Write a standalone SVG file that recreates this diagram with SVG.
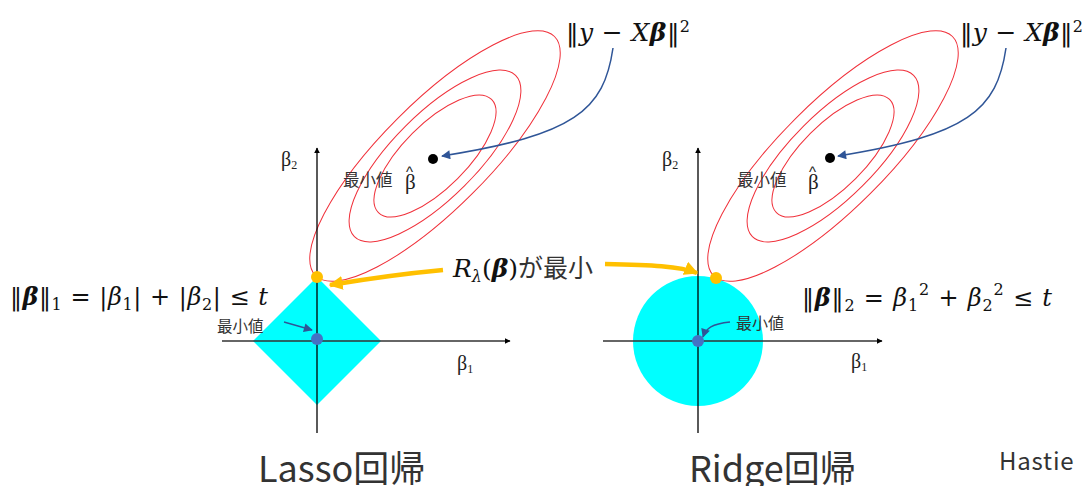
<svg xmlns="http://www.w3.org/2000/svg" width="1085" height="486" viewBox="0 0 1085 486">
<style>
.ell{fill:none;stroke:#f0303a;stroke-width:1}
.ax{stroke:#000;stroke-width:1.3;fill:none}
.axh{stroke:#333;stroke-width:1.3;fill:none}
.jp{font-family:"Noto Sans CJK JP","Noto Sans",sans-serif;fill:#333}
.m{font-family:"DejaVu Serif","Liberation Serif",serif;fill:#111}
.gr{font-family:"Liberation Serif",serif;fill:#222}
.hat{font-family:"Liberation Sans",sans-serif;fill:#222}
.bl{fill:none;stroke:#2f5597;stroke-width:1.5}
.or{fill:none;stroke:#ffc000;stroke-width:4.5}
</style>
<defs>
<marker id="ah" viewBox="0 0 10 10" refX="9" refY="5" markerWidth="6" markerHeight="9" orient="auto" markerUnits="userSpaceOnUse">
<path d="M0,0 L10,5 L0,10 z" fill="#000"/></marker>
<marker id="bh" viewBox="0 0 10 10" refX="9" refY="5" markerWidth="10" markerHeight="9" orient="auto" markerUnits="userSpaceOnUse">
<path d="M0,0 L10,5 L0,10 z" fill="#2f5597"/></marker>
<marker id="oh" viewBox="0 0 10 10" refX="9" refY="5" markerWidth="14" markerHeight="14" orient="auto" markerUnits="userSpaceOnUse">
<path d="M0,0 L10,5 L0,10 z" fill="#ffc000"/></marker>
</defs>

<g id="lasso">
<polygon points="317,277 381,341 317,405 253,341" fill="#00ffff"/>
<g id="lasso-ellipses" transform="translate(435,156) rotate(-45)">
<ellipse class="ell" rx="169" ry="53"/>
<ellipse class="ell" rx="114" ry="42"/>
<ellipse class="ell" rx="80" ry="32"/>
</g>
<line class="ax" x1="317" y1="433" x2="317" y2="148" marker-end="url(#ah)"/>
<line class="axh" x1="222" y1="341" x2="510" y2="341" marker-end="url(#ah)"/>
<text class="gr" x="281" y="166" font-size="20">β<tspan font-size="12" dy="3">2</tspan></text>
<text class="gr" x="457" y="370" font-size="20">β<tspan font-size="12" dy="3">1</tspan></text>
<circle cx="433" cy="159" r="5" fill="#000"/>
<text class="jp" x="343" y="186" font-size="16.5">最小値</text>
<text class="gr" x="405" y="189" font-size="21">β</text>
<text class="hat" x="406" y="177" font-size="15">^</text>
<circle cx="317" cy="339" r="6" fill="#4472c4"/>
<circle cx="317" cy="277" r="6" fill="#ffc000"/>
<text class="jp" x="217" y="332" font-size="15.5">最小値</text>
<path class="bl" d="M284,322 L312,330" marker-end="url(#bh)"/>
<text class="m" x="10" y="305" font-size="24" textLength="258" lengthAdjust="spacing">‖<tspan font-weight="bold" font-style="italic">β</tspan>‖<tspan font-size="16" dy="5">1</tspan><tspan dy="-5"> = |</tspan><tspan font-style="italic">β</tspan><tspan font-size="16" dy="5">1</tspan><tspan dy="-5">| + |</tspan><tspan font-style="italic">β</tspan><tspan font-size="16" dy="5">2</tspan><tspan dy="-5">| ≤ </tspan><tspan font-style="italic">t</tspan></text>
<text class="m" x="566" y="41" font-size="25" textLength="124" lengthAdjust="spacing">‖<tspan font-style="italic">y</tspan> − <tspan font-style="italic">X</tspan><tspan font-weight="bold" font-style="italic">β</tspan>‖<tspan font-size="16" dy="-9">2</tspan></text>
<text class="jp" x="258" y="482" font-size="36">Lasso回帰</text>
</g>

<g id="ridge">
<circle cx="698" cy="341" r="65" fill="#00ffff"/>
<g id="ridge-ellipses" transform="translate(833,156) rotate(-45)">
<ellipse class="ell" rx="169" ry="53"/>
<ellipse class="ell" rx="114" ry="42"/>
<ellipse class="ell" rx="80" ry="32"/>
</g>
<line class="ax" x1="698" y1="433" x2="698" y2="148" marker-end="url(#ah)"/>
<line class="axh" x1="603" y1="341" x2="882" y2="341" marker-end="url(#ah)"/>
<text class="gr" x="662" y="166" font-size="20">β<tspan font-size="12" dy="3">2</tspan></text>
<text class="gr" x="851" y="368" font-size="20">β<tspan font-size="12" dy="3">1</tspan></text>
<circle cx="830" cy="158" r="5" fill="#000"/>
<text class="jp" x="737" y="186" font-size="16.5">最小値</text>
<text class="gr" x="808" y="189" font-size="21">β</text>
<text class="hat" x="809" y="177" font-size="15">^</text>
<circle cx="698" cy="341" r="6" fill="#4472c4"/>
<circle cx="716" cy="278" r="6" fill="#ffc000"/>
<text class="jp" x="736" y="329" font-size="16">最小値</text>
<path class="bl" d="M730,322 C712,324 706,328 703,337" marker-end="url(#bh)"/>
<text class="m" x="802" y="306" font-size="24" textLength="250" lengthAdjust="spacing">‖<tspan font-weight="bold" font-style="italic">β</tspan>‖<tspan font-size="16" dy="5">2</tspan><tspan dy="-5"> = </tspan><tspan font-style="italic">β</tspan><tspan font-size="16" dy="5">1</tspan><tspan font-size="16" dy="-16">2</tspan><tspan dy="11"> + </tspan><tspan font-style="italic">β</tspan><tspan font-size="16" dy="5">2</tspan><tspan font-size="16" dy="-16">2</tspan><tspan dy="11"> ≤ </tspan><tspan font-style="italic">t</tspan></text>
<text class="m" x="960" y="41" font-size="25" textLength="123" lengthAdjust="spacing">‖<tspan font-style="italic">y</tspan> − <tspan font-style="italic">X</tspan><tspan font-weight="bold" font-style="italic">β</tspan>‖<tspan font-size="16" dy="-9">2</tspan></text>
<text class="jp" x="689" y="482" font-size="36">Ridge回帰</text>
</g>

<g id="label-min">
<text class="m" x="453" y="277" font-size="25"><tspan font-style="italic">R</tspan><tspan font-style="italic" font-size="16" dy="5">λ</tspan><tspan dy="-5">(</tspan><tspan font-weight="bold" font-style="italic">β</tspan>)<tspan class="jp" font-size="25" fill="#333">が最小</tspan></text>
</g>

<g id="hastie">
<text class="jp" x="999" y="470" font-size="24" letter-spacing="0.8">Hastie</text>
</g>

<g id="connectors">
<path class="bl" d="M613,48 C604,110 575,135 442,156" marker-end="url(#bh)"/>
<path class="bl" d="M1006,48 C997,110 968,135 838,156" marker-end="url(#bh)"/>
<path class="or" d="M443,270 C400,274 360,280 330,285" marker-end="url(#oh)"/>
<path class="or" d="M605,264 C650,265 680,266 697,273" marker-end="url(#oh)"/>
</g>
</svg>
